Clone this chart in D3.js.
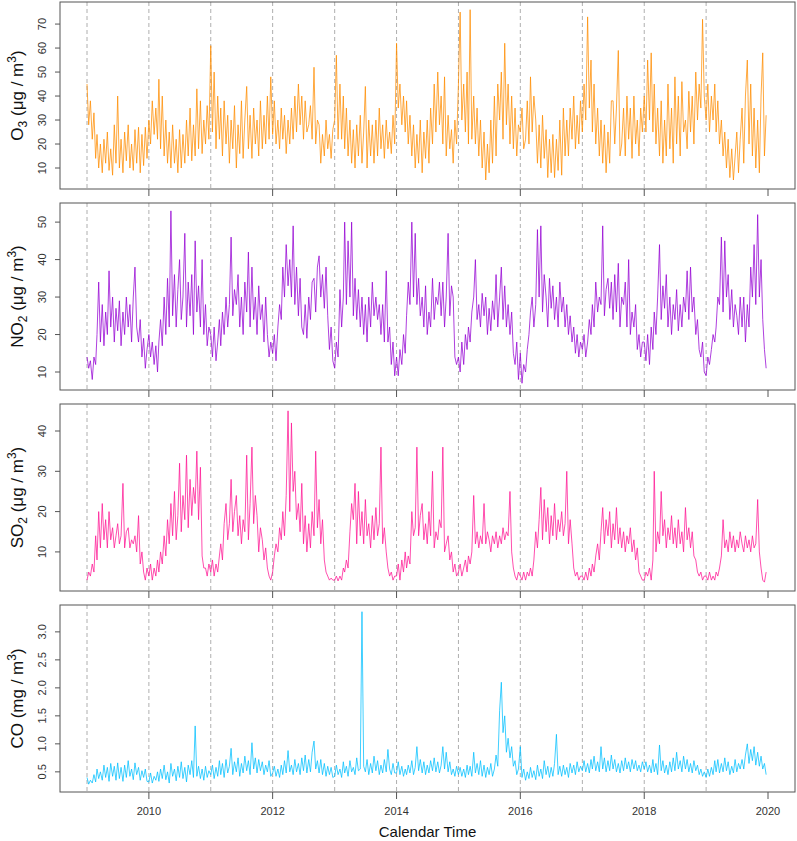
<!DOCTYPE html>
<html><head><meta charset="utf-8">
<script src="https://cdn.jsdelivr.net/npm/d3@7"></script>
<style>body{margin:0;background:#fff}svg{display:block}text{font-family:"Liberation Sans",Arial,sans-serif}</style>
</head><body><svg id="c" width="797" height="841"></svg>
<script>
// ---- data: 3 readings per month (days 1, 11, 21), one row per year ----
const years = [2009,2010,2011,2012,2013,2014,2015,2016,2017,2018,2019];
const daysOfMonth = [1, 11, 21];
const xTickYears = [2010,2012,2014,2016,2018,2020];

const o3 = [
[45,28,38, 22,33,14, 24,10,20, 8,22,12, 25,9,18, 7,28,12, 40,10,22, 8,25,13, 28,10,20, 9,26,12, 27,8,24, 11,27,14],
[30,20,38, 24,35,22, 47,18,40, 15,30,12, 25,10,28, 12,22,8, 26,10,24, 12,30,15, 35,13,28, 15,43,18, 38,16,30, 20,36,22],
[61,25,50, 18,40,22, 35,15,38, 20,32,12, 30,18,36, 10,28,16, 38,14,30, 44,18,32, 14,35,20, 30,15,38, 18,32,20, 40,22,48],
[24,38,20, 30,18,35, 22,32,16, 30,20,35, 22,40,25, 45,28,40, 22,38,25, 28,36,22, 52,20,30, 28,12,24, 15,30,18, 24,14,26],
[30,57,22, 45,22,40, 18,35,15, 30,12,26, 10,28,15, 32,12,25, 44,10,30, 15,28,12, 30,15,35, 18,28,14, 30,18,25, 16,32,20],
[62,35,45, 28,40,25, 38,20,32, 15,28,10, 24,12,30, 8,25,14, 30,12,35, 20,45,25, 50,28,40, 20,48,15, 32,18,26, 12,30,20],
[45,75,30, 45,25,50, 20,76,22, 40,20,35, 15,30,10, 25,5,20, 8,30,12, 40,15,45, 30,50,22, 62,28,45, 20,40,18, 35,15,28],
[25,35,18, 22,38,20, 48,25,40, 30,12,28, 10,32,14, 26,6,22, 8,24,6, 22,9,30, 7,35,15, 30,15,35, 22,40,18, 32,20,38],
[25,45,30, 73,35,55, 25,45,20, 35,15,30, 12,28,8, 25,12,38, 38,20,35, 59,15,20, 35,15,40, 22,35,14, 40,20,30, 15,35,25],
[40,25,55, 30,58,25, 45,20,35, 15,38,12, 30,15,45, 18,35,12, 48,20,40, 15,46,25, 30,18,42, 25,40,20, 50,30,45, 35,72,40],
[30,45,25, 40,30,45, 25,38,20, 30,15,25, 10,22,6, 18,5,15, 25,8,22, 35,12,40, 55,20,45, 15,35,10, 30,8,40, 58,15,32]
];
const no2 = [
[14,11,13, 8,14,12, 20,34,18, 28,17,26, 20,37,22, 30,18,27, 21,29,17, 26,20,30, 22,28,18, 30,38,22, 18,24,14, 19,11,16],
[20,14,18, 12,17,10, 18,24,17, 30,20,35, 22,53,25, 36,22,32, 40,24,30, 47,22,34, 25,36,20, 45,26,33, 22,40,20, 28,17,22],
[20,14,22, 13,18,24, 17,26,20, 30,22,28, 46,25,32, 28,36,22, 30,20,34, 26,42,22, 38,24,30, 20,33,24, 28,18,30, 20,14,18],
[15,20,13, 22,28,24, 38,30,44, 33,40,30, 49,28,38, 25,35,22, 20,28,19, 30,24,34, 35,26,38, 41,30,36, 27,38,25, 16,22,13],
[11,18,14, 32,22,30, 50,28,45, 30,50,25, 35,24,32, 22,30,20, 28,18,30, 22,34,25, 30,24,28, 20,28,18, 37,18,22, 12,18,9],
[14,9,16, 12,20,15, 25,34,28, 50,30,47, 28,35,25, 30,22,33, 20,26,22, 35,24,30, 28,34,25, 34,22,30, 47,25,33, 30,14,12],
[14,10,18, 12,20,16, 22,18,26, 30,40,24, 28,22,31, 25,30,20, 27,21,29, 24,36,22, 30,38,24, 33,22,28, 20,26,15, 12,18,8],
[15,7,12, 10,16,20, 26,30,22, 28,48,30, 49,26,36, 30,22,35, 27,33,24, 30,22,34, 26,30,22, 28,20,25, 18,22,15, 20,14,18],
[16,20,14, 18,24,20, 28,22,34, 26,30,28, 49,25,32, 35,27,34, 24,36,26, 39,22,30, 28,34,22, 40,20,26, 22,28,16, 20,14,18],
[18,13,20, 12,22,16, 26,20,30, 44,24,33, 27,36,22, 30,20,28, 24,32,21, 28,22,30, 26,37,24, 38,26,30, 20,24,16, 14,18,10],
[9,14,12, 16,20,18, 22,30,28, 46,26,45, 30,36,24, 32,22,28, 25,20,30, 22,30,18, 28,22,38, 30,44,28, 52,30,40, 24,16,11]
];
const so2 = [
[3,5,4, 7,5,14, 8,20,11, 22,13,18, 11,20,13, 16,11,14, 17,12,14, 27,11,15, 16,11,13, 12,14,10, 19,7,10, 5,3,6],
[4,7,3, 6,4,8, 5,10,7, 14,9,18, 12,22,14, 25,13,19, 32,15,24, 18,34,16, 28,19,26, 22,35,18, 31,9,6, 6,4,7],
[5,8,4, 7,5,9, 12,8,17, 22,13,17, 28,15,20, 24,14,19, 12,18,15, 34,13,22, 36,17,24, 19,10,16, 13,8,11, 6,4,3],
[5,9,12, 10,16,13, 20,14,24, 45,20,42, 25,30,18, 22,15,27, 12,19,10, 17,11,20, 14,35,16, 23,12,18, 8,5,4, 3,3.5,3],
[3,4,2.8, 4,3,6, 5,8,6, 15,22,18, 27,12,25, 14,20,12, 23,14,17, 11,19,13, 21,14,17, 36,12,16, 10,6,4, 5,3,4],
[4,7,3, 8,5,10, 6,9,7, 20,14,16, 36,14,19, 22,13,17, 12,20,14, 30,11,15, 13,18,16, 36,10,12, 14,8,10, 5,7,4],
[5,7,4, 6,8,5, 9,7,10, 24,12,15, 11,14,12, 22,12,15, 13,10,14, 12,15,11, 14,12,16, 13,15,14, 25,10,6, 4,3,5],
[4,3,5, 3,5,4, 6,4,8, 15,11,18, 26,13,23, 15,21,12, 19,14,22, 13,18,15, 20,14,17, 30,12,18, 12,6,4, 5,3,4],
[4,3,5, 3,6,4, 7,5,9, 12,8,15, 21,12,18, 14,20,11, 17,13,21, 12,16,11, 15,10,14, 12,16,10, 13,8,11, 5,4,3],
[3,5,4, 6,3,8, 30,10,15, 12,25,14, 18,11,16, 13,19,12, 16,11,18, 12,15,10, 21,13,16, 11,15,9, 8,5,4, 5,3,4],
[4,3,5, 3,4,3, 5,4,6, 9,18,11, 13,10,15, 11,14,10, 13,11,15, 12,10,14, 11,13,10, 14,11,12, 23,10,6, 3,2.5,5]
];
const co = [
[0.40,0.28,0.35, 0.30,0.45,0.32, 0.55,0.38,0.50, 0.35,0.62,0.40, 0.58,0.33,0.65, 0.42,0.60,0.35, 0.66,0.38,0.58, 0.33,0.62,0.40, 0.70,0.42,0.55, 0.36,0.66,0.45, 0.58,0.35,0.52, 0.40,0.55,0.33],
[0.32,0.48,0.30, 0.42,0.35,0.50, 0.33,0.55,0.38, 0.62,0.36,0.50, 0.30,0.65,0.42, 0.55,0.34,0.60, 0.40,0.68,0.38, 0.58,0.32,0.62, 0.45,0.70,0.40, 1.32,0.42,0.60, 0.38,0.55,0.35, 0.60,0.40,0.52],
[0.45,0.62,0.38, 0.58,0.42,0.70, 0.45,0.65,0.40, 0.72,0.48,0.60, 0.92,0.45,0.68, 0.50,0.75,0.42, 0.65,0.48,0.78, 0.52,0.70,0.45, 1.02,0.55,0.75, 0.48,0.72,0.52, 0.68,0.45,0.62, 0.50,0.70,0.42],
[0.48,0.60,0.42, 0.55,0.40,0.62, 0.45,0.70,0.48, 0.88,0.50,0.62, 0.45,0.72,0.50, 0.65,0.45,0.75, 0.52,0.80,0.48, 0.72,0.50,0.85, 1.05,0.55,0.70, 0.48,0.72,0.45, 0.65,0.42,0.60, 0.45,0.58,0.40],
[0.42,0.62,0.45, 0.55,0.40,0.68, 0.48,0.60,0.42, 0.70,0.50,0.58, 0.45,0.75,0.52, 0.55,3.36,0.60, 0.50,0.72,0.45, 0.65,0.48,0.78, 0.52,0.70,0.45, 0.62,0.48,0.72, 0.50,0.90,0.55, 0.45,0.65,0.48],
[0.48,0.68,0.45, 0.60,0.42,0.55, 0.45,0.62,0.48, 0.70,0.45,0.58, 0.95,0.52,0.72, 0.48,0.68,0.45, 0.62,0.48,0.70, 0.52,0.75,0.50, 0.68,0.48,0.62, 0.95,0.55,0.85, 0.50,0.68,0.45, 0.55,0.42,0.60],
[0.45,0.58,0.42, 0.55,0.40,0.62, 0.45,0.60,0.42, 0.85,0.48,0.65, 0.45,0.70,0.42, 0.62,0.40,0.58, 0.45,0.65,0.42, 0.55,0.80,0.60, 1.60,2.10,1.20, 1.50,0.85,1.10, 0.75,0.95,0.60, 0.70,0.45,0.55],
[0.95,0.40,0.55, 0.35,0.50,0.38, 0.58,0.40,0.52, 0.36,0.62,0.42, 0.55,0.38,0.70, 0.45,0.60,0.40, 0.58,0.42,0.65, 1.17,0.45,0.60, 0.42,0.62,0.45, 0.58,0.40,0.65, 0.48,0.62,0.45, 0.68,0.50,0.60],
[0.52,0.70,0.50, 0.65,0.48,0.72, 0.55,0.78,0.52, 0.68,0.50,0.95, 0.55,0.75,0.50, 0.70,0.52,0.80, 0.55,0.72,0.50, 0.65,0.48,0.70, 0.52,0.75,0.55, 0.68,0.50,0.72, 0.55,0.70,0.52, 0.62,0.50,0.68],
[0.55,0.68,0.50, 0.62,0.48,0.72, 0.50,0.65,0.45, 0.98,0.52,0.70, 0.48,0.62,0.45, 0.68,0.50,0.75, 0.52,0.85,0.55, 0.70,0.50,0.78, 0.55,0.72,0.50, 0.65,0.48,0.70, 0.52,0.62,0.45, 0.55,0.42,0.50],
[0.40,0.55,0.42, 0.58,0.45,0.70, 0.50,0.72,0.48, 0.65,0.50,0.75, 0.52,0.68,0.45, 0.60,0.48,0.72, 0.50,0.65,0.55, 0.72,0.55,0.80, 1.00,0.65,0.90, 0.70,0.95,0.62, 0.85,0.60,0.78, 0.55,0.65,0.45]
];

const panels = [
  {name:"O", sub:"3", unit:"μg", values:o3, color:"#FF8C00", domain:[1.25,79.2], ticks:[10,20,30,40,50,60,70], fmt:d3.format("d")},
  {name:"NO", sub:"2", unit:"μg", values:no2, color:"#9400D3", domain:[5.2,55.1], ticks:[10,20,30,40,50], fmt:d3.format("d")},
  {name:"SO", sub:"2", unit:"μg", values:so2, color:"#FF1493", domain:[0.3,46.7], ticks:[10,20,30,40], fmt:d3.format("d")},
  {name:"CO", sub:null, unit:"mg", values:co, color:"#00BFFF", domain:[0.14,3.48], ticks:[0.5,1.0,1.5,2.0,2.5,3.0], fmt:d3.format(".1f")}
];

// ---- layout ----
const svg = d3.select("#c");
const L = 60, R = 795, panelH = 187, panelTops = [2,203,404,605];
const x = d3.scaleTime().domain([new Date(2009,0,1), new Date(2020,0,1)]).range([87,768]);

function seriesOf(rows){
  const out=[];
  rows.forEach((row,yi)=>row.forEach((v,i)=>{
    out.push({date:new Date(years[yi], Math.floor(i/3), daysOfMonth[i%3]), v});
  }));
  return out;
}

panels.forEach((p,pi)=>{
  const top = panelTops[pi], bot = top+panelH;
  const y = d3.scaleLinear().domain(p.domain).range([bot, top]);
  const g = svg.append("g");
  g.append("clipPath").attr("id","clip"+pi).append("rect").attr("x",L).attr("y",top).attr("width",R-L).attr("height",panelH);

  // year separators
  g.selectAll("line.sep").data(years).join("line")
    .attr("x1",d=>x(new Date(d,0,1))).attr("x2",d=>x(new Date(d,0,1)))
    .attr("y1",top).attr("y2",bot)
    .attr("stroke","#9a9a9a").attr("stroke-width",0.8).attr("stroke-dasharray","4,3");

  // series line
  const data = seriesOf(p.values);
  g.append("path").datum(data).attr("clip-path",`url(#clip${pi})`)
    .attr("fill","none").attr("stroke",p.color).attr("stroke-width",0.75).attr("stroke-linejoin","round")
    .attr("d", d3.line().x(d=>x(d.date)).y(d=>y(d.v)));

  // box
  g.append("rect").attr("x",L).attr("y",top).attr("width",R-L).attr("height",panelH)
    .attr("fill","none").attr("stroke","#555").attr("stroke-width",1);

  // x ticks
  g.selectAll("line.xt").data(xTickYears).join("line")
    .attr("x1",d=>x(new Date(d,0,1))).attr("x2",d=>x(new Date(d,0,1)))
    .attr("y1",bot).attr("y2",bot+7).attr("stroke","#555");
  if(pi===3){
    g.selectAll("text.xl").data(xTickYears).join("text")
      .attr("x",d=>x(new Date(d,0,1))).attr("y",bot+23)
      .attr("text-anchor","middle").attr("font-size",11).attr("fill","#333").text(d=>d);
  }

  // y ticks
  g.selectAll("line.yt").data(p.ticks).join("line")
    .attr("x1",L-5).attr("x2",L).attr("y1",d=>y(d)).attr("y2",d=>y(d)).attr("stroke","#555");
  g.selectAll("text.yl").data(p.ticks).join("text")
    .attr("transform",d=>`translate(46,${y(d)}) rotate(-90)`)
    .attr("text-anchor","middle").attr("font-size",11).attr("fill","#333").text(d=>p.fmt(d));

  // y title
  const t = g.append("text").attr("transform",`translate(23,${(top+bot)/2}) rotate(-90)`)
    .attr("text-anchor","middle").attr("font-size",17).attr("fill","#111");
  t.append("tspan").text(p.name);
  if(p.sub) t.append("tspan").attr("font-size",12).attr("dy",4).text(p.sub);
  t.append("tspan").attr("dy",p.sub?-4:0).text(" ("+p.unit+" / m");
  t.append("tspan").attr("font-size",12).attr("dy",-7).text("3");
  t.append("tspan").attr("dy",7).text(")");
});

svg.append("text").attr("x",(L+R)/2).attr("y",837).attr("text-anchor","middle")
  .attr("font-size",15).attr("fill","#111").text("Calendar Time");
</script></body></html>
